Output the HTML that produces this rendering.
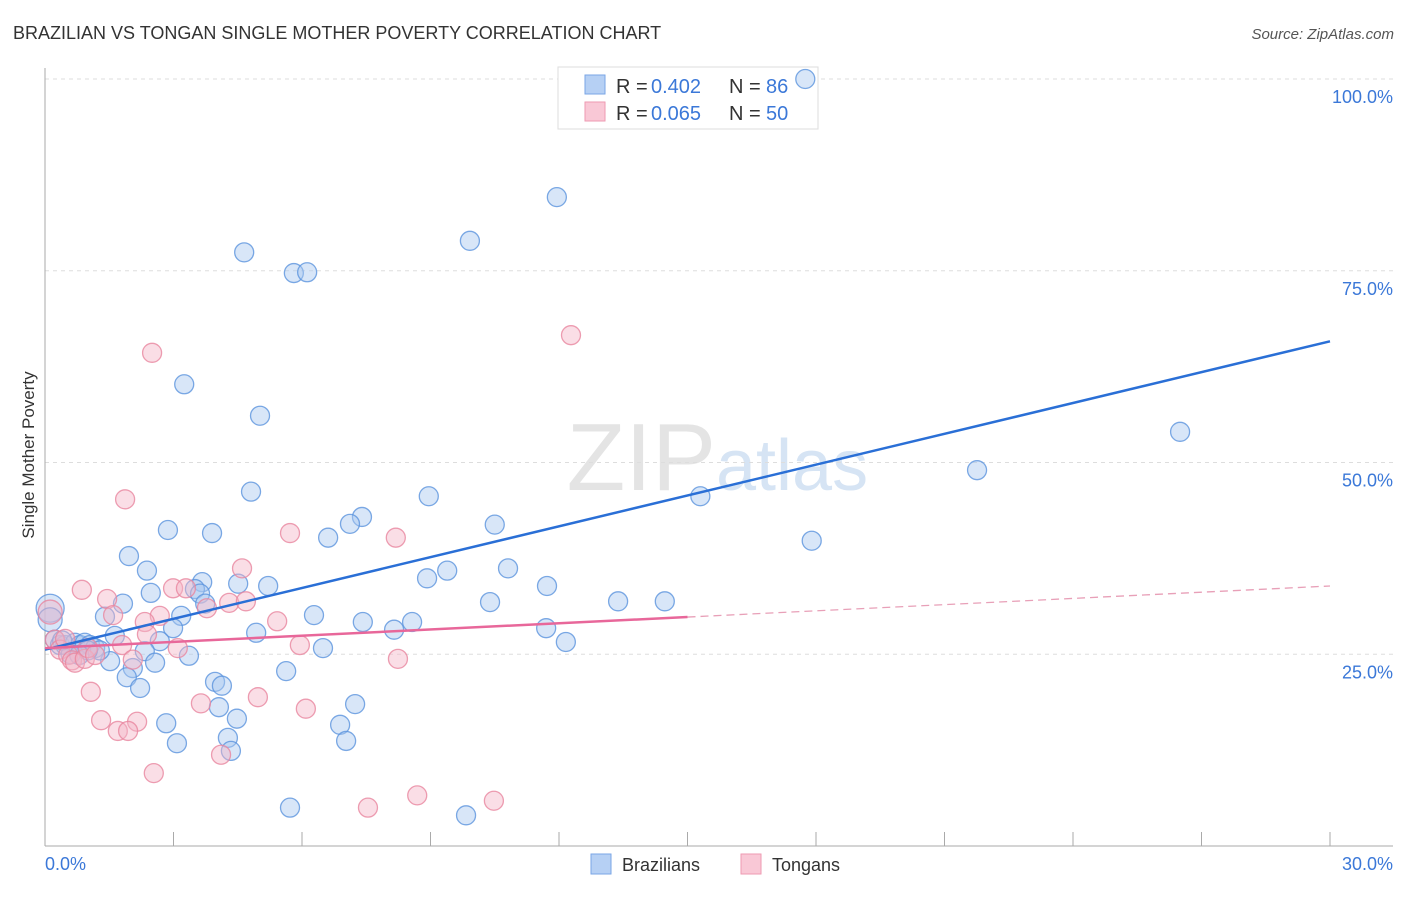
<!DOCTYPE html>
<html><head><meta charset="utf-8"><style>
body{margin:0;background:#fff;font-family:"Liberation Sans",sans-serif;}
svg text{font-family:"Liberation Sans",sans-serif;}
</style></head><body>
<svg id="chart" width="1406" height="892" xmlns="http://www.w3.org/2000/svg">
<text x="13" y="39" font-size="18" fill="#333">BRAZILIAN VS TONGAN SINGLE MOTHER POVERTY CORRELATION CHART</text>
<text x="1394" y="39" font-size="15" fill="#555" text-anchor="end" font-style="italic">Source: ZipAtlas.com</text>
<text x="716" y="490" font-size="96" fill="#e4e4e4" text-anchor="end" font-family="Liberation Serif">ZIP</text>
<text x="716" y="490" font-size="72" fill="#d6e4f4">atlas</text>
<g id="grid"></g>
<g id="axes"></g>
<g>
<rect x="558" y="67" width="260" height="62" fill="#fff" stroke="#ddd"/>
<rect x="585" y="75" width="20" height="19" fill="#b6d0f4" stroke="#7aa6e6"/>
<rect x="585" y="102" width="20" height="19" fill="#f9c8d6" stroke="#ee9ab2"/>
<text x="616" y="93" font-size="20" fill="#333">R =</text>
<text x="651" y="93" font-size="20" fill="#3b78d8">0.402</text>
<text x="729" y="93" font-size="20" fill="#333">N =</text>
<text x="766" y="93" font-size="20" fill="#3b78d8">86</text>
<text x="616" y="120" font-size="20" fill="#333">R =</text>
<text x="651" y="120" font-size="20" fill="#3b78d8">0.065</text>
<text x="729" y="120" font-size="20" fill="#333">N =</text>
<text x="766" y="120" font-size="20" fill="#3b78d8">50</text>
</g>
<g id="pts"></g>
<g id="lines"></g>
<text transform="translate(34,455) rotate(-90)" font-size="17" fill="#333" text-anchor="middle">Single Mother Poverty</text>
<g>
<rect x="591" y="854" width="20" height="20" fill="#b6d0f4" stroke="#7aa6e6"/>
<text x="622" y="871" font-size="18" fill="#333">Brazilians</text>
<rect x="741" y="854" width="20" height="20" fill="#f9c8d6" stroke="#ee9ab2"/>
<text x="772" y="871" font-size="18" fill="#333">Tongans</text>
</g>
</svg>
<script>
const blueX=[17.75,11.95,9.92,4.65,5.81,6.12,26.5,21.76,15.3,17.9,3.25,5.02,4.81,8.96,10.5,7.4,7.12,6.61,2.87,3.9,1.96,2.38,9.39,10.81,8.92,11.72,5.21,4.51,3.67,2.47,3.5,3.62,13.38,14.47,10.39,1.82,3.74,3.18,1.4,6.28,7.42,8.57,11.7,8.15,2.99,1.63,4.93,2.68,12.16,6.49,2.33,3.36,1.52,2.57,2.05,5.63,1.91,2.22,3.97,4.13,7.24,4.06,4.48,2.83,6.89,4.27,3.08,7.03,4.34,5.72,9.83,0.12,0.12,0.23,0.35,0.47,0.7,0.82,0.93,1.05,1.17,1.28,0.6,1.0,0.4,0.8];
const blueY=[100,84.6,78.9,77.4,74.7,74.8,54.0,49.0,45.6,39.8,60.2,56.1,46.2,45.6,41.9,42.9,42.0,40.2,41.2,40.8,37.8,35.9,35.9,36.2,34.9,33.9,33.9,34.2,34.4,33.0,33.5,32.9,31.9,31.9,31.8,31.6,31.6,30.0,29.9,30.1,29.2,29.2,28.4,28.2,28.4,27.4,27.8,26.7,26.6,25.8,25.4,24.8,24.1,23.9,23.2,22.8,22.0,20.6,21.4,20.9,18.5,18.1,16.6,16.0,15.8,14.1,13.4,13.7,12.4,5.0,4.0,31.0,29.5,26.9,26.2,26.2,26.5,26.2,26.5,26.2,25.8,25.5,25.0,25.5,26.8,24.9];
const pinkX=[2.5,12.28,1.87,5.72,8.19,4.6,0.86,2.99,3.29,1.45,3.78,4.3,4.69,2.68,1.59,5.42,2.33,2.38,1.8,3.1,5.95,2.05,8.24,1.07,4.97,3.64,6.09,1.31,2.15,1.7,1.94,2.54,4.11,7.54,8.69,10.48,0.12,0.23,0.35,0.54,0.63,0.7,0.93,1.0,1.17,0.47];
const pinkY=[64.3,66.6,45.2,40.8,40.2,36.2,33.4,33.6,33.6,32.2,31.0,31.7,31.9,30.0,30.1,29.3,29.2,27.6,26.2,25.8,26.2,24.3,24.4,20.1,19.4,18.6,17.9,16.4,16.2,15.0,15.0,9.5,11.9,5.0,6.6,5.9,30.5,26.9,25.6,24.9,24.2,23.9,24.4,25.8,24.9,27.0];
const yTicks=[25,50,75,100];
const yTickLabels=["25.0%","50.0%","75.0%","100.0%"];
const xTickLabels=["0.0%","30.0%"];
const blueTrend=[25.6,65.8];
const pinkTrend=[25.8,33.9];
const pinkSolidEnd=15;
const NS="http://www.w3.org/2000/svg";
const X=v=>45+v/30*1285, Y=v=>846-v/100*767;
function mk(tag,at,parent){const e=document.createElementNS(NS,tag);for(const k in at)e.setAttribute(k,at[k]);document.getElementById(parent).appendChild(e);return e;}
yTicks.forEach((t,i)=>{
 const l=mk('line',{x1:45,x2:1393,y1:Y(t),y2:Y(t),stroke:'#ddd','stroke-dasharray':'4,4'},'grid');
 
 
 const tx=mk('text',{x:1393,y:Y(t)+24,'font-size':18,fill:'#3b78d8','text-anchor':'end'},'grid');
 tx.textContent=yTickLabels[i];
 
 
});
let a=mk('line',{x1:45,x2:45,y1:68,y2:846,stroke:'#aaa'},'axes');


a=mk('line',{x1:45,x2:1393,y1:846,y2:846,stroke:'#aaa'},'axes');


for(let i=0;i<=10;i++){
 const t=mk('line',{x1:X(i*3),x2:X(i*3),y1:832,y2:846,stroke:'#aaa'},'axes');
 
 
}
[[0,'start',45],[30,'end',1393]].forEach((d,i)=>{
 const t=mk('text',{x:d[2],y:870,'font-size':18,fill:'#3b78d8','text-anchor':d[1]},'axes');
 t.textContent=xTickLabels[i];
 
 
});
function pts(xs,ys,fill,stroke,name){
 xs.forEach((x,i)=>{
  const r=(x<0.2)?(i%2?14:12):9.5;
  const c=mk('circle',{cx:X(x),cy:Y(ys[i]),r:r,fill:fill,'fill-opacity':0.45,stroke:stroke,'stroke-width':1.3,'stroke-opacity':0.8},'pts');
  
  
 });
}
pts(blueX,blueY,'#a8c8f0','#5b93dd','brazilian-point');
pts(pinkX,pinkY,'#f4b6c8','#e9869f','tongan-point');
let l=mk('line',{x1:X(0),y1:Y(blueTrend[0]),x2:X(30),y2:Y(blueTrend[1]),stroke:'#2a6fd6','stroke-width':2.5},'lines');


const pm=v=>pinkTrend[0]+(pinkTrend[1]-pinkTrend[0])*v/30;
l=mk('line',{x1:X(0),y1:Y(pm(0)),x2:X(pinkSolidEnd),y2:Y(pm(pinkSolidEnd)),stroke:'#e8679a','stroke-width':2.5},'lines');


l=mk('line',{x1:X(pinkSolidEnd),y1:Y(pm(pinkSolidEnd)),x2:X(30),y2:Y(pm(30)),stroke:'#e8a0b8','stroke-width':1.3,'stroke-dasharray':'8,5'},'lines');


</script>
</body></html>
